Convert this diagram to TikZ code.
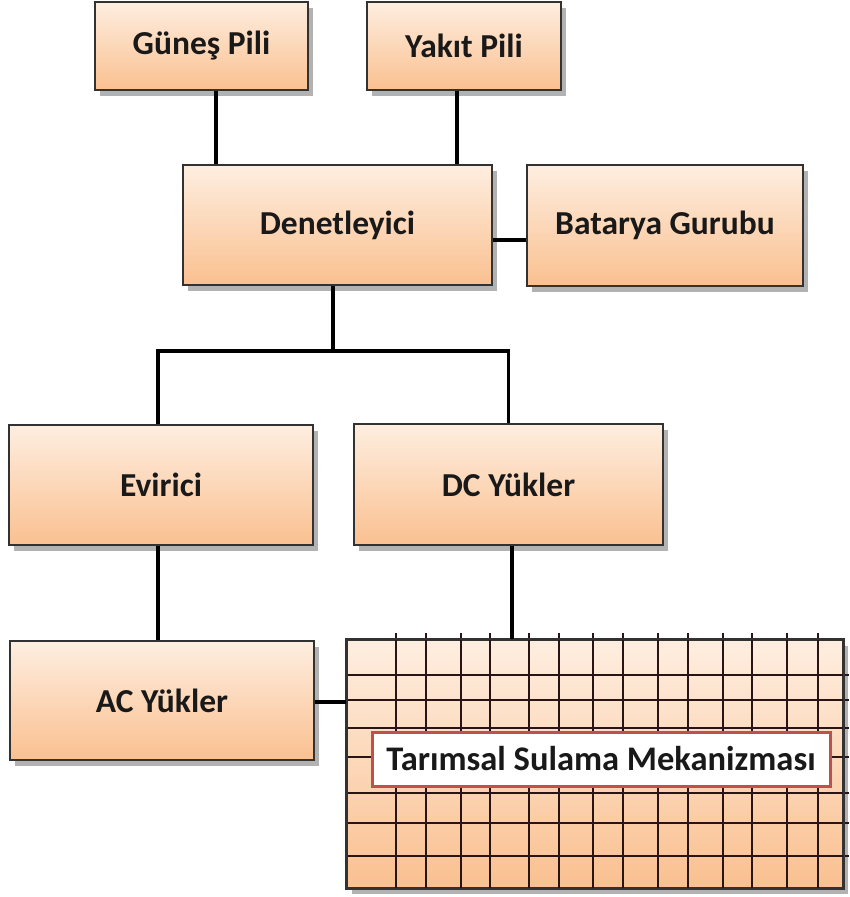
\documentclass[tikz,border=0pt]{standalone}
\usepackage{fontspec}
\setmainfont{Carlito}
\usetikzlibrary{shadows,calc}
\definecolor{peachtop}{RGB}{254,238,224}
\definecolor{peachbot}{RGB}{250,192,144}
\definecolor{edgegray}{RGB}{50,50,50}
\definecolor{labelred}{RGB}{192,80,77}
\definecolor{gridcol}{RGB}{40,20,20}
\tikzset{
  box/.style={draw=edgegray, line width=2pt, top color=peachtop, bottom color=peachbot,
    inner sep=0pt, font=\fontsize{33.5}{38}\selectfont\bfseries, text=black!90,
    drop shadow={shadow xshift=5pt, shadow yshift=-6pt, fill=black, opacity=0.3}},
  conn/.style={draw=black, line width=3.2pt},
  gridline/.style={draw=gridcol, line width=1.6pt},
  labelbox/.style={draw=labelred, line width=3pt, fill=white, inner sep=0pt,
    font=\fontsize{34.5}{38}\selectfont\bfseries, text=black!90,
    drop shadow={shadow xshift=2pt, shadow yshift=-2pt, fill=black, opacity=0.2}}
}
\begin{document}
\begin{tikzpicture}[x=1pt,y=-1pt]
\useasboundingbox (0,0) rectangle (850,897);
% boxes
\node[box, minimum width=213pt, minimum height=88pt] (gunes) at (201.5,46) {Güneş Pili};
\node[box, minimum width=194pt, minimum height=88pt] (yakit) at (464,46) {Yakıt Pili};
\node[box, minimum width=309pt, minimum height=120pt] (denet) at (337.5,225) {Denetleyici};
\node[box, minimum width=276pt, minimum height=121pt] (batarya) at (665,225.5) {Batarya Gurubu};
\node[box, minimum width=304pt, minimum height=120pt] (evirici) at (161,485) {Evirici};
\node[box, minimum width=309pt, minimum height=121pt] (dc) at (508.5,484.5) {DC Yükler};
\node[box, minimum width=304pt, minimum height=119pt] (ac) at (162,700.5) {AC Yükler};
\node[box, minimum width=496pt, minimum height=248pt] (grid) at (595,764) {};
% grid lines
\foreach \gx in {396,426,461,490,529,559,593,623,658,688,723,752,787,818}
  \draw[gridline] (\gx,633) -- (\gx,888);
\foreach \gy in {675,700,728,757,793,823,856}
  \draw[gridline] (348,\gy) -- (849,\gy);
\draw[draw=edgegray, line width=2pt] (grid.north west) rectangle (grid.south east);
\node[labelbox, minimum width=458pt, minimum height=54pt] (label) at (601,759) {Tarımsal Sulama Mekanizması};
% connectors
\draw[conn] ([xshift=14.5pt]gunes.south) -- ([xshift=14.5pt]gunes.south |- denet.north);
\draw[conn] ([xshift=-7pt]yakit.south) -- ([xshift=-7pt]yakit.south |- denet.north);
\draw[conn] ([yshift=-15pt]denet.east) -- ([yshift=-15pt]denet.east -| batarya.west);
\coordinate (bus) at ([xshift=-4.5pt,yshift=-65pt]denet.south);
\draw[conn] ([xshift=-4.5pt]denet.south) -- (bus);
\draw[conn] ([xshift=-3pt]evirici.north) |- (bus) -| (dc.north);
\draw[conn] ([xshift=-3pt]evirici.south) -- ([xshift=-3pt]evirici.south |- ac.north);
\draw[conn] ([xshift=3.5pt]dc.south) -- ([xshift=3.5pt]dc.south |- grid.north);
\draw[conn] ([yshift=-1.5pt]ac.east) -- ([yshift=-1.5pt]ac.east -| grid.west);
\end{tikzpicture}
\end{document}
